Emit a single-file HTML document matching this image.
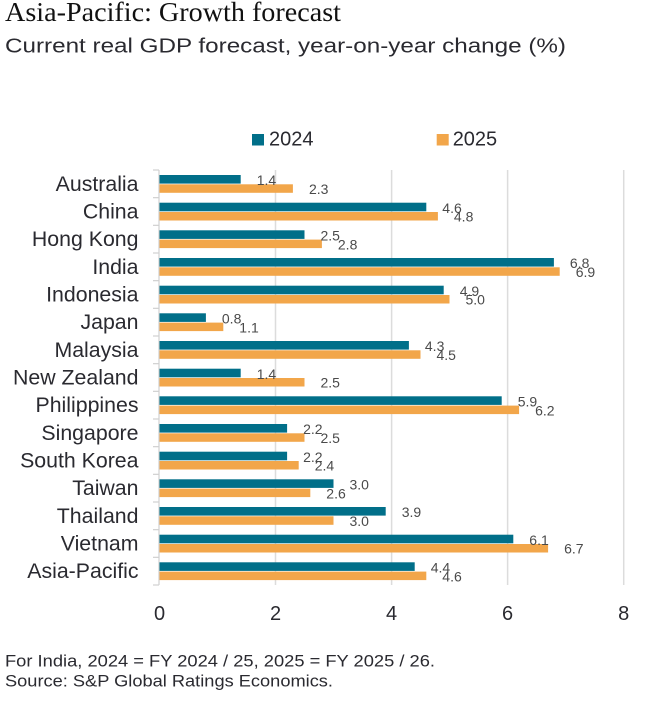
<!DOCTYPE html>
<html>
<head>
<meta charset="utf-8">
<style>
  html,body{margin:0;padding:0;background:#fff;}
  svg{display:block;}
  .cat{font-family:"Liberation Sans",sans-serif;font-size:21.3px;fill:#2a2a30;text-anchor:end;}
  .tick{font-family:"Liberation Sans",sans-serif;font-size:20px;fill:#2a2a30;text-anchor:middle;}
  .val{font-family:"Liberation Sans",sans-serif;font-size:14px;fill:#4a4a4a;}
</style>
</head>
<body>
<svg width="648" height="703" viewBox="0 0 648 703" xmlns="http://www.w3.org/2000/svg">
  <rect width="648" height="703" fill="#fff"/>
  <text x="5" y="21" font-family="Liberation Serif, serif" font-size="27" fill="#111" textLength="336" lengthAdjust="spacingAndGlyphs">Asia-Pacific: Growth forecast</text>
  <text x="5" y="52.7" font-family="Liberation Sans, sans-serif" font-size="20.5" fill="#2a2a30" textLength="561" lengthAdjust="spacingAndGlyphs">Current real GDP forecast, year-on-year change (%)</text>

  <!-- legend -->
  <rect x="252" y="134" width="12" height="11.5" fill="#016f89"/>
  <text x="269" y="145.3" font-family="Liberation Sans, sans-serif" font-size="20" fill="#2a2a30">2024</text>
  <rect x="436.7" y="134" width="12" height="11.5" fill="#f2a64a"/>
  <text x="452.7" y="145.3" font-family="Liberation Sans, sans-serif" font-size="20" fill="#2a2a30">2025</text>

  <!-- gridlines -->
  <g stroke="#dcdcdc" stroke-width="1.5">
    <line x1="275.5" y1="170" x2="275.5" y2="585"/>
    <line x1="391.6" y1="170" x2="391.6" y2="585"/>
    <line x1="507.6" y1="170" x2="507.6" y2="585"/>
    <line x1="623.7" y1="170" x2="623.7" y2="585"/>
  </g>
  <!-- y axis -->
  <g stroke="#d0d0d0" stroke-width="1.2">
    <line x1="159" y1="170" x2="159" y2="585"/>
  </g>

  <!-- x tick labels -->
  <text class="tick" x="159.5" y="620">0</text>
  <text class="tick" x="275.5" y="620">2</text>
  <text class="tick" x="391.6" y="620">4</text>
  <text class="tick" x="507.6" y="620">6</text>
  <text class="tick" x="623.7" y="620">8</text>

  <text x="5" y="666.7" font-family="Liberation Sans, sans-serif" font-size="17" fill="#2a2a30" textLength="430" lengthAdjust="spacingAndGlyphs">For India, 2024 = FY 2024 / 25, 2025 = FY 2025 / 26.</text>
  <text x="5" y="686.7" font-family="Liberation Sans, sans-serif" font-size="17" fill="#2a2a30" textLength="328" lengthAdjust="spacingAndGlyphs">Source: S&amp;P Global Ratings Economics.</text>

  <g>
    <text class="cat" x="138.5" y="190.8">Australia</text>
    <rect x="159.5" y="175" width="81.2" height="8.6" fill="#016f89"/>
    <rect x="159.5" y="184.3" width="133.4" height="8.5" fill="#f2a64a"/>
    <text class="val" x="256.7" y="185.2">1.4</text>
    <text class="val" x="309" y="194">2.3</text>

    <text class="cat" x="138.5" y="218.5">China</text>
    <rect x="159.5" y="202.7" width="266.8" height="8.6" fill="#016f89"/>
    <rect x="159.5" y="212" width="278.4" height="8.5" fill="#f2a64a"/>
    <text class="val" x="442.3" y="212.9">4.6</text>
    <text class="val" x="453.9" y="221.7">4.8</text>

    <text class="cat" x="138.5" y="246.1">Hong Kong</text>
    <rect x="159.5" y="230.3" width="145" height="8.6" fill="#016f89"/>
    <rect x="159.5" y="239.6" width="162.4" height="8.5" fill="#f2a64a"/>
    <text class="val" x="320.5" y="240.5">2.5</text>
    <text class="val" x="337.9" y="249.3">2.8</text>

    <text class="cat" x="138.5" y="273.8">India</text>
    <rect x="159.5" y="258" width="394.4" height="8.6" fill="#016f89"/>
    <rect x="159.5" y="267.3" width="400.2" height="8.5" fill="#f2a64a"/>
    <text class="val" x="569.9" y="268.2">6.8</text>
    <text class="val" x="575.7" y="277">6.9</text>

    <text class="cat" x="138.5" y="301.5">Indonesia</text>
    <rect x="159.5" y="285.7" width="284.2" height="8.6" fill="#016f89"/>
    <rect x="159.5" y="295" width="290" height="8.5" fill="#f2a64a"/>
    <text class="val" x="459.7" y="295.9">4.9</text>
    <text class="val" x="465.5" y="304.7">5.0</text>

    <text class="cat" x="138.5" y="329.1">Japan</text>
    <rect x="159.5" y="313.3" width="46.4" height="8.6" fill="#016f89"/>
    <rect x="159.5" y="322.6" width="63.8" height="8.5" fill="#f2a64a"/>
    <text class="val" x="221.9" y="323.5">0.8</text>
    <text class="val" x="239.3" y="332.3">1.1</text>

    <text class="cat" x="138.5" y="356.8">Malaysia</text>
    <rect x="159.5" y="341" width="249.4" height="8.6" fill="#016f89"/>
    <rect x="159.5" y="350.3" width="261" height="8.5" fill="#f2a64a"/>
    <text class="val" x="424.9" y="351.2">4.3</text>
    <text class="val" x="436.5" y="360">4.5</text>

    <text class="cat" x="138.5" y="384.5">New Zealand</text>
    <rect x="159.5" y="368.7" width="81.2" height="8.6" fill="#016f89"/>
    <rect x="159.5" y="378" width="145" height="8.5" fill="#f2a64a"/>
    <text class="val" x="256.7" y="378.9">1.4</text>
    <text class="val" x="320.5" y="387.7">2.5</text>

    <text class="cat" x="138.5" y="412.1">Philippines</text>
    <rect x="159.5" y="396.3" width="342.2" height="8.6" fill="#016f89"/>
    <rect x="159.5" y="405.6" width="359.6" height="8.5" fill="#f2a64a"/>
    <text class="val" x="517.7" y="406.5">5.9</text>
    <text class="val" x="535.1" y="415.3">6.2</text>

    <text class="cat" x="138.5" y="439.8">Singapore</text>
    <rect x="159.5" y="424" width="127.6" height="8.6" fill="#016f89"/>
    <rect x="159.5" y="433.3" width="145" height="8.5" fill="#f2a64a"/>
    <text class="val" x="303.1" y="434.2">2.2</text>
    <text class="val" x="320.5" y="443">2.5</text>

    <text class="cat" x="138.5" y="467.5">South Korea</text>
    <rect x="159.5" y="451.7" width="127.6" height="8.6" fill="#016f89"/>
    <rect x="159.5" y="461" width="139.2" height="8.5" fill="#f2a64a"/>
    <text class="val" x="303.1" y="461.9">2.2</text>
    <text class="val" x="314.7" y="470.7">2.4</text>

    <text class="cat" x="138.5" y="495.1">Taiwan</text>
    <rect x="159.5" y="479.3" width="174" height="8.6" fill="#016f89"/>
    <rect x="159.5" y="488.6" width="150.8" height="8.5" fill="#f2a64a"/>
    <text class="val" x="349.5" y="489.5">3.0</text>
    <text class="val" x="326.3" y="498.3">2.6</text>

    <text class="cat" x="138.5" y="522.8">Thailand</text>
    <rect x="159.5" y="507" width="226.2" height="8.6" fill="#016f89"/>
    <rect x="159.5" y="516.3" width="174" height="8.5" fill="#f2a64a"/>
    <text class="val" x="401.7" y="517.2">3.9</text>
    <text class="val" x="349.5" y="526">3.0</text>

    <text class="cat" x="138.5" y="550.5">Vietnam</text>
    <rect x="159.5" y="534.7" width="353.8" height="8.6" fill="#016f89"/>
    <rect x="159.5" y="544" width="388.6" height="8.5" fill="#f2a64a"/>
    <text class="val" x="529.3" y="544.9">6.1</text>
    <text class="val" x="564.1" y="553.7">6.7</text>

    <text class="cat" x="138.5" y="578.1">Asia-Pacific</text>
    <rect x="159.5" y="562.3" width="255.2" height="8.6" fill="#016f89"/>
    <rect x="159.5" y="571.6" width="266.8" height="8.5" fill="#f2a64a"/>
    <text class="val" x="430.7" y="572.5">4.4</text>
    <text class="val" x="442.3" y="581.3">4.6</text>
  </g>

  <g stroke="#d0d0d0" stroke-width="1.2">
    <line x1="153" y1="170" x2="159" y2="170"/>
    <line x1="153" y1="197.67" x2="159" y2="197.67"/>
    <line x1="153" y1="225.33" x2="159" y2="225.33"/>
    <line x1="153" y1="253" x2="159" y2="253"/>
    <line x1="153" y1="280.67" x2="159" y2="280.67"/>
    <line x1="153" y1="308.33" x2="159" y2="308.33"/>
    <line x1="153" y1="336" x2="159" y2="336"/>
    <line x1="153" y1="363.67" x2="159" y2="363.67"/>
    <line x1="153" y1="391.33" x2="159" y2="391.33"/>
    <line x1="153" y1="419" x2="159" y2="419"/>
    <line x1="153" y1="446.67" x2="159" y2="446.67"/>
    <line x1="153" y1="474.33" x2="159" y2="474.33"/>
    <line x1="153" y1="502" x2="159" y2="502"/>
    <line x1="153" y1="529.67" x2="159" y2="529.67"/>
    <line x1="153" y1="557.33" x2="159" y2="557.33"/>
    <line x1="153" y1="585" x2="159" y2="585"/>
  </g>
</svg>
</body>
</html>
